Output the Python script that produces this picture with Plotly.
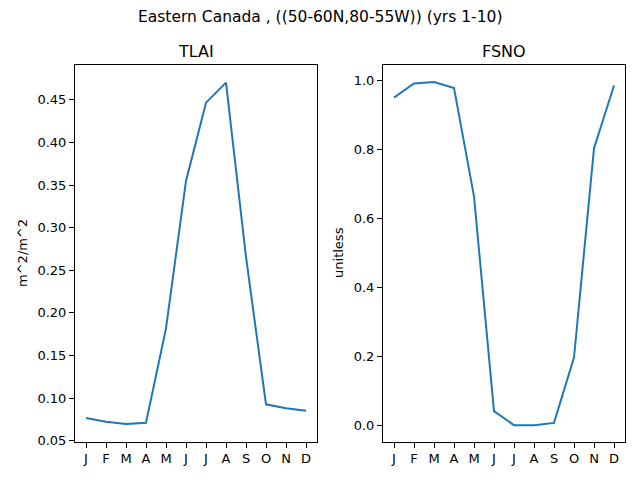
import plotly.graph_objects as go

months = ["J", "F", "M", "A", "M", "J", "J", "A", "S", "O", "N", "D"]
month_idx = list(range(12))

tlai = [0.0766, 0.0723, 0.0696, 0.0711, 0.1818, 0.3548,
        0.4467, 0.4702, 0.2657, 0.0927, 0.0880, 0.0852]
fsno = [0.950, 0.991, 0.995, 0.978, 0.664, 0.0416,
        0.001, 0.001, 0.0076, 0.197, 0.803, 0.985]

tlai_ticks = [0.05, 0.10, 0.15, 0.20, 0.25, 0.30, 0.35, 0.40, 0.45]
fsno_ticks = [0.0, 0.2, 0.4, 0.6, 0.8, 1.0]

font = "DejaVu Sans, sans-serif"
line_col = "#1f77b4"

# page has an 8px body margin; the capture also squeezes height a little
W, H = 624, 473
OFF = 8
KY = 0.982


def px(x):
    return (x - OFF) / W


def py(y):
    return 1 - (y / KY - OFF) / H


fig = go.Figure()
fig.add_trace(go.Scatter(x=month_idx, y=tlai, mode="lines",
                         line=dict(color=line_col, width=2),
                         xaxis="x", yaxis="y", showlegend=False))
fig.add_trace(go.Scatter(x=month_idx, y=fsno, mode="lines",
                         line=dict(color=line_col, width=2),
                         xaxis="x2", yaxis="y2", showlegend=False))

axis_common = dict(showline=True, linecolor="black", linewidth=1, mirror=True,
                   ticks="outside", ticklen=5, tickwidth=1, tickcolor="black",
                   showgrid=False, zeroline=False,
                   tickfont=dict(family=font, size=13, color="black"))

ydom = [py(440), py(65)]

fig.update_layout(
    width=W, height=H,
    margin=dict(l=0, r=0, t=0, b=0),
    paper_bgcolor="white", plot_bgcolor="white",
    font=dict(family=font, size=13, color="black"),
    xaxis=dict(domain=[px(75), px(317)], range=[-0.55, 11.55],
               tickvals=month_idx, ticktext=months, anchor="y", **axis_common),
    yaxis=dict(domain=ydom, range=[0.049, 0.4905], tickvals=tlai_ticks,
               tickformat=".2f", anchor="x", **axis_common),
    xaxis2=dict(domain=[px(383), px(625)], range=[-0.55, 11.55],
                tickvals=month_idx, ticktext=months, anchor="y2", **axis_common),
    yaxis2=dict(domain=ydom, range=[-0.0465, 1.0435], tickvals=fsno_ticks,
                tickformat=".1f", anchor="x2", **axis_common),
    annotations=[
        dict(text="Eastern Canada , ((50-60N,80-55W)) (yrs 1-10)",
             x=px(320), y=py(17), xref="paper", yref="paper",
             showarrow=False, font=dict(size=15.5), xanchor="center", yanchor="middle"),
        dict(text="TLAI", x=px(196), y=py(51), xref="paper", yref="paper",
             showarrow=False, font=dict(size=16), xanchor="center", yanchor="middle"),
        dict(text="FSNO", x=px(504), y=py(51), xref="paper", yref="paper",
             showarrow=False, font=dict(size=16), xanchor="center", yanchor="middle"),
        dict(text="m^2/m^2", x=px(23), y=py(252), xref="paper", yref="paper",
             showarrow=False, textangle=-90, font=dict(size=13),
             xanchor="center", yanchor="middle"),
        dict(text="unitless", x=px(339), y=py(252), xref="paper", yref="paper",
             showarrow=False, textangle=-90, font=dict(size=13),
             xanchor="center", yanchor="middle"),
    ],
)

fig.write_html("out.html")
